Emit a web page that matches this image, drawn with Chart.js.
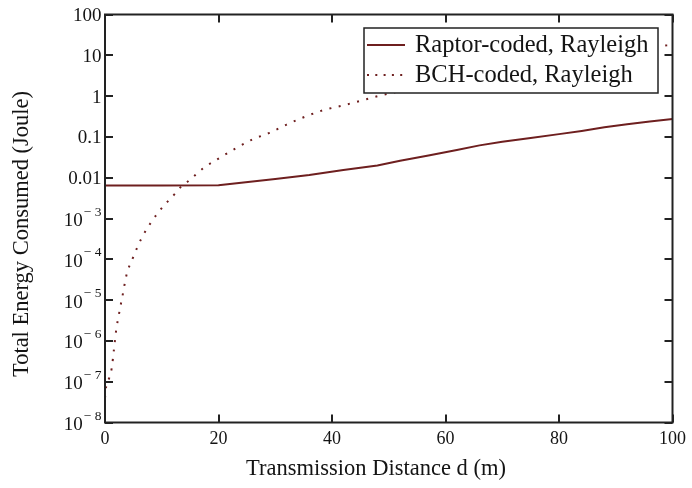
<!DOCTYPE html>
<html>
<head>
<meta charset="utf-8">
<script src="https://cdn.jsdelivr.net/npm/chart.js@4.4.0/dist/chart.umd.min.js"></script>
<style>
html,body{margin:0;padding:0;background:#fff;}
#c{display:block;}
</style>
</head>
<body>
<canvas id="c" width="692" height="488"></canvas>
<script>
// ---- data ----
const RAPTOR_D = [0,10,20,24,30,36,42,48,52,57,62,66,70,75,80,84,88,92,96,100];
const RAPTOR_E = [0.0064,0.0064,0.0065,0.0075,0.0093,0.0117,0.0155,0.020,0.026,0.035,0.048,0.062,0.076,0.094,0.117,0.14,0.172,0.205,0.24,0.275];
const BCH_D = [0,0.2,0.76,1.17,1.58,1.94,2.52,3.05,3.82,4.99,6.4,8.0,10.0,12.3,13.4,14.8,17.3,20.1,23.1,26,29,32,35.2,38.4,41.5,44.9,48.1,50,55,60,65,70,75,80,85,90,95,100];
const BCH_E = [4e-8,7.5e-8,1.26e-7,2.1e-7,6.2e-7,1.7e-6,5.0e-6,1.2e-5,4.3e-5,1.15e-4,3.2e-4,7.6e-4,1.8e-3,4.0e-3,6.0e-3,8.5e-3,0.017,0.030,0.053,0.087,0.126,0.20,0.31,0.45,0.57,0.76,1.0,1.15,1.68,2.4,3.3,4.4,5.8,7.5,9.6,12.1,14.9,18.2];
const SERIES_LABELS = ['Raptor-coded, Rayleigh','BCH-coded, Rayleigh'];
const X_TICKS = [0,20,40,60,80,100];
const Y_TICKS = [100,10,1,0.1,0.01,1e-3,1e-4,1e-5,1e-6,1e-7,1e-8];
const Y_TICK_LABELS = ['100','10','1','0.1','0.01','10^-3','10^-4','10^-5','10^-6','10^-7','10^-8'];
const X_TITLE = 'Transmission Distance d (m)';
const Y_TITLE = 'Total Energy Consumed (Joule)';

const LINE_COLOR = '#6e1f1f';
const TEXT_COLOR = '#141414';
const SERIF = '"Liberation Serif", "Times New Roman", serif';

const toPts = (xs, ys) => xs.map((x, i) => ({x: x, y: ys[i]}));

const decorPlugin = {
  id: 'decor',
  afterDatasetsDraw(chart) {
    const ctx = chart.ctx;
    const a = chart.chartArea;
    const xs = chart.scales.x, ys = chart.scales.y;
    ctx.save();
    // frame
    ctx.strokeStyle = '#222';
    ctx.lineWidth = 2;
    ctx.strokeRect(a.left, a.top, a.right - a.left, a.bottom - a.top);
    // inward ticks
    ctx.lineWidth = 2;
    ctx.beginPath();
    const TL = 8;
    X_TICKS.forEach(v => {
      const px = Math.round(xs.getPixelForValue(v));
      ctx.moveTo(px, a.bottom); ctx.lineTo(px, a.bottom - TL);
      ctx.moveTo(px, a.top); ctx.lineTo(px, a.top + TL);
    });
    Y_TICKS.forEach(v => {
      const py = Math.round(ys.getPixelForValue(v));
      ctx.moveTo(a.left, py); ctx.lineTo(a.left + TL, py);
      ctx.moveTo(a.right, py); ctx.lineTo(a.right - TL, py);
    });
    ctx.stroke();

    // y tick labels (with superscript exponents)
    ctx.fillStyle = TEXT_COLOR;
    const rightEdge = a.left - 3.5;
    Y_TICKS.forEach((v, i) => {
      const py = ys.getPixelForValue(v);
      const lab = Y_TICK_LABELS[i];
      if (lab.indexOf('^') >= 0) {
        const parts = lab.split('^');
        const base = parts[0];
        const exp = parts[1].replace('-', '\u2212 ');
        ctx.font = '19px ' + SERIF;
        const wb = ctx.measureText(base).width;
        ctx.font = '13.5px ' + SERIF;
        const we = ctx.measureText(exp).width;
        const x0 = rightEdge - wb - we - 1;
        ctx.textAlign = 'left';
        ctx.textBaseline = 'middle';
        ctx.font = '19px ' + SERIF;
        ctx.fillText(base, x0, py + 2.5);
        ctx.font = '13.5px ' + SERIF;
        ctx.fillText(exp, x0 + wb + 1, py - 6.5);
      } else {
        ctx.font = '19px ' + SERIF;
        ctx.textAlign = 'right';
        ctx.textBaseline = 'middle';
        ctx.fillText(lab, rightEdge, py + 1.5);
      }
    });

    // axis titles
    ctx.font = '22.5px ' + SERIF;
    ctx.textAlign = 'center';
    ctx.textBaseline = 'middle';
    ctx.fillText(X_TITLE, 376, 469);
    ctx.save();
    ctx.translate(22, 234);
    ctx.rotate(-Math.PI / 2);
    ctx.fillText(Y_TITLE, 0, 0);
    ctx.restore();

    // legend
    const bx = 364, by = 28, bw = 294, bh = 65;
    ctx.fillStyle = '#fff';
    ctx.fillRect(bx, by, bw, bh);
    ctx.strokeStyle = '#222';
    ctx.lineWidth = 1.5;
    ctx.strokeRect(bx, by, bw, bh);
    const rows = [45, 75];
    chart.data.datasets.forEach((ds, i) => {
      const ry = rows[i];
      ctx.strokeStyle = ds.borderColor;
      ctx.lineWidth = ds.borderWidth;
      ctx.setLineDash(i === 1 ? [2, 6.3] : []);
      ctx.beginPath();
      ctx.moveTo(367, ry); ctx.lineTo(405, ry);
      ctx.stroke();
      ctx.setLineDash([]);
      ctx.fillStyle = TEXT_COLOR;
      ctx.font = '24.5px ' + SERIF;
      ctx.textAlign = 'left';
      ctx.textBaseline = 'middle';
      ctx.fillText(ds.label, 415, ry + 1);
    });
    ctx.restore();
  }
};

new Chart(document.getElementById('c'), {
  type: 'line',
  data: {
    datasets: [
      {
        label: SERIES_LABELS[0],
        data: toPts(RAPTOR_D, RAPTOR_E),
        borderColor: LINE_COLOR,
        borderWidth: 2,
        pointRadius: 0,
        tension: 0,
        fill: false
      },
      {
        label: SERIES_LABELS[1],
        data: toPts(BCH_D, BCH_E),
        borderColor: LINE_COLOR,
        borderWidth: 2,
        borderDash: [2, 7.5],
        pointRadius: 0,
        cubicInterpolationMode: 'monotone',
        fill: false
      }
    ]
  },
  options: {
    responsive: false,
    animation: false,
    devicePixelRatio: 1,
    layout: {padding: {left: 0, right: 19, top: 14.5, bottom: 0}},
    plugins: {legend: {display: false}, tooltip: {enabled: false}},
    scales: {
      x: {
        type: 'linear',
        min: 0, max: 100,
        grid: {display: false, drawTicks: false},
        border: {display: false},
        afterBuildTicks: s => { s.ticks = X_TICKS.map(v => ({value: v})); },
        afterFit: s => { s.height = 65.5; },
        ticks: {
          color: TEXT_COLOR,
          font: {family: SERIF, size: 18},
          padding: 6,
          maxRotation: 0
        }
      },
      y: {
        type: 'logarithmic',
        min: 1e-8, max: 100,
        grid: {display: false, drawTicks: false},
        border: {display: false},
        afterBuildTicks: s => { s.ticks = Y_TICKS.map(v => ({value: v})); },
        afterFit: s => { s.width = 105; },
        ticks: {display: false}
      }
    }
  },
  plugins: [decorPlugin]
});
</script>
</body>
</html>
